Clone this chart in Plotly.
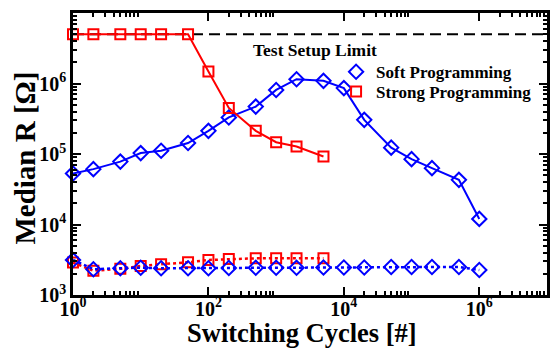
import plotly.graph_objects as go

# ---- data ----
cycles_soft = [1, 2, 5, 10, 20, 50, 100, 200, 500, 1e3, 2e3, 5e3, 1e4, 2e4, 5e4, 1e5, 2e5, 5e5, 1e6]
soft_high = [5.3e4, 6.1e4, 7.8e4, 1.03e5, 1.11e5, 1.43e5, 2.13e5, 3.3e5, 4.7e5, 8.1e5,
             1.15e6, 1.09e6, 8.6e5, 3.05e5, 1.23e5, 8.45e4, 6.3e4, 4.3e4, 1.2e4]
soft_low = [3.14e3, 2.32e3, 2.4e3, 2.44e3, 2.4e3, 2.4e3, 2.4e3, 2.42e3, 2.44e3, 2.44e3,
            2.44e3, 2.45e3, 2.46e3, 2.46e3, 2.5e3, 2.5e3, 2.5e3, 2.5e3, 2.26e3]

cycles_strong = [1, 2, 5, 10, 20, 50, 100, 200, 500, 1e3, 2e3, 5e3]
strong_high = [5e6, 5e6, 5e6, 5e6, 5e6, 5e6, 1.48e6, 4.5e5, 2.13e5, 1.47e5, 1.28e5, 9.2e4]
strong_low = [2.88e3, 2.21e3, 2.35e3, 2.58e3, 2.73e3, 2.91e3, 3.14e3, 3.24e3, 3.31e3, 3.31e3, 3.31e3, 3.31e3]

limit_x = [1, 1e7]
limit_value = 5e6

x_ticks = [1, 1e2, 1e4, 1e6]
x_ticktext = ["10<sup>0</sup>", "10<sup>2</sup>", "10<sup>4</sup>", "10<sup>6</sup>"]
y_ticks = [1e3, 1e4, 1e5, 1e6, 1e7]
y_ticktext = ["10<sup>3</sup>", "10<sup>4</sup>", "10<sup>5</sup>", "10<sup>6</sup>", "10<sup>7</sup>"]

x_title = "Switching Cycles [#]"
y_title = "Median R [Ω]"
limit_label = "Test Setup Limit"

BLUE = "#0000ff"
RED = "#ff0000"
FONT = "Liberation Serif"

fig = go.Figure()

fig.add_trace(go.Scatter(x=limit_x, y=[limit_value, limit_value], mode="lines",
                         line=dict(color="black", width=2, dash="11px,6px"), showlegend=False))

fig.add_trace(go.Scatter(x=cycles_soft, y=soft_high, mode="lines+markers",
                         line=dict(color=BLUE, width=2),
                         marker=dict(symbol="diamond-open", size=11, color=BLUE, line=dict(width=2)),
                         showlegend=False, cliponaxis=False))
fig.add_trace(go.Scatter(x=cycles_strong, y=strong_high, mode="lines+markers",
                         line=dict(color=RED, width=2),
                         marker=dict(symbol="square-open", size=10, color=RED, line=dict(width=2)),
                         showlegend=False, cliponaxis=False))

fig.add_trace(go.Scatter(x=cycles_strong, y=strong_low, mode="lines+markers",
                         line=dict(color=RED, width=2.5, dash="dot"),
                         marker=dict(symbol="square-open", size=10, color=RED, line=dict(width=2)),
                         showlegend=False, cliponaxis=False))
fig.add_trace(go.Scatter(x=cycles_soft, y=soft_low, mode="lines+markers",
                         line=dict(color=BLUE, width=2.5, dash="dot"),
                         marker=dict(symbol="diamond-open", size=11, color=BLUE, line=dict(width=2)),
                         showlegend=False, cliponaxis=False))

fig.add_trace(go.Scatter(x=[None], y=[None], mode="markers", name="Soft Programming",
                         legend="legend",
                         marker=dict(symbol="diamond-open", size=11, color=BLUE, line=dict(width=2))))
fig.add_trace(go.Scatter(x=[None], y=[None], mode="markers", name="Strong Programming",
                         legend="legend2",
                         marker=dict(symbol="square-open", size=10, color=RED, line=dict(width=2))))

fig.add_annotation(text=limit_label, xref="paper", yref="paper", x=0.51, y=0.87,
                   yanchor="middle", showarrow=False,
                   font=dict(family=FONT, size=17.5, color="black", weight="bold"))

# axis titles
fig.add_annotation(text=x_title, xref="paper", yref="paper", x=0.483, y=-0.133,
                   xanchor="center", yanchor="middle", showarrow=False,
                   font=dict(family=FONT, size=26.5, color="black", weight="bold"))
fig.add_annotation(text=y_title, xref="paper", yref="paper", x=-0.102, y=0.486,
                   xanchor="center", yanchor="middle", showarrow=False, textangle=-90,
                   font=dict(family=FONT, size=29, color="black", weight="bold"))

x_minor = [m * 10 ** d for d in (0, 2, 4, 6) for m in range(2, 10)]
y_minor = [m * 10 ** d for d in (3, 4, 5, 6) for m in range(2, 10)]

axis_common = dict(showline=True, linecolor="black", linewidth=2.5, mirror="ticks",
                   ticks="inside", ticklen=8, tickwidth=2, tickcolor="black",
                   showgrid=False, zeroline=False, automargin=False,
                   tickfont=dict(family=FONT, size=20, color="black", weight="bold"))

fig.update_xaxes(type="log", range=[0, 7], tickmode="array", tickvals=x_ticks, ticktext=x_ticktext,
                 ticklabelstandoff=-6,
                 minor=dict(tickmode="array", tickvals=x_minor, ticks="inside", ticklen=4,
                            tickwidth=1.5, tickcolor="black", showgrid=False),
                 **axis_common)
fig.update_yaxes(type="log", range=[3, 7], tickmode="array", tickvals=y_ticks, ticktext=y_ticktext,
                 minor=dict(tickmode="array", tickvals=y_minor, ticks="inside", ticklen=4,
                            tickwidth=1.5, tickcolor="black", showgrid=False),
                 **axis_common)

legend_common = dict(xanchor="left", yanchor="middle", bgcolor="rgba(0,0,0,0)",
                     font=dict(family=FONT, size=17, color="black", weight="bold"),
                     itemwidth=30)

fig.update_layout(
    width=555, height=358,
    margin=dict(l=73, r=8, t=13, b=63),
    paper_bgcolor="white", plot_bgcolor="white",
    legend=dict(x=0.555, y=0.79, **legend_common),
    legend2=dict(x=0.555, y=0.72, **legend_common),
)

fig.write_html("out.html")
